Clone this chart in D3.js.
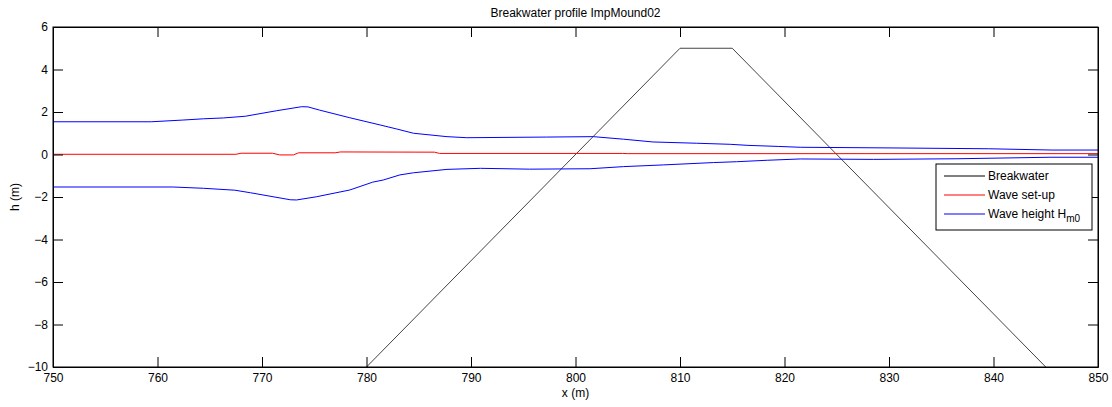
<!DOCTYPE html>
<html>
<head>
<meta charset="utf-8">
<script src="https://cdn.jsdelivr.net/npm/d3@7"></script>
<style>
  body { margin: 0; background: #fff; }
  svg text { font-family: "Liberation Sans", Arial, sans-serif; font-size: 12px; fill: #000; }
</style>
</head>
<body>
<svg id="chart" width="1112" height="407"></svg>
<script>
// breakwater cross-section (x, h)
const breakwater = [[780, -10], [810, 5], [815, 5], [845, -10]]

// wave set-up along the profile
const setup = [
  [750, 0.01], [767.5, 0.01], [768, 0.06], [771, 0.06], [771.7, -0.02], [773, -0.02],
  [773.5, 0.08], [777, 0.08], [777.5, 0.12], [786.5, 0.11], [787, 0.05], [804.5, 0.05],
  [805, 0.04], [850, 0.04]
]

// upper envelope (+Hm0/2) and lower envelope (-Hm0/2)
const hUpper = [
  [750, 1.54], [759.4, 1.54], [762.4, 1.62], [764.4, 1.68], [766.3, 1.72], [768.4, 1.80],
  [771.4, 2.06], [773.8, 2.25], [774.4, 2.24], [775.5, 2.09], [778.4, 1.73], [781.3, 1.39],
  [782.9, 1.2], [784.5, 1.0], [787.7, 0.84], [789.6, 0.79], [797.2, 0.82], [801.7, 0.84],
  [804.6, 0.72], [807.4, 0.59], [811.6, 0.53], [814.8, 0.48], [816.5, 0.43], [819.4, 0.38],
  [821.5, 0.34], [830, 0.31], [839.5, 0.27], [845.6, 0.21], [850, 0.21]
]
const hLower = [
  [750, -1.53], [761.5, -1.53], [764.4, -1.59], [767.4, -1.68], [768.9, -1.80],
  [772.7, -2.13], [773.3, -2.14], [775.2, -1.99], [778.4, -1.67], [780.6, -1.3],
  [781.6, -1.2], [783.2, -0.96], [784.5, -0.86], [787.7, -0.70], [790.9, -0.65],
  [795.6, -0.69], [801.4, -0.67], [804.6, -0.57], [808.4, -0.49], [813.2, -0.38],
  [815.4, -0.34], [818.4, -0.27], [821.5, -0.21], [828.5, -0.23], [836.5, -0.20],
  [845.4, -0.13], [850, -0.13]
]

const xTicks = [750, 760, 770, 780, 790, 800, 810, 820, 830, 840, 850]
const yTicks = [-10, -8, -6, -4, -2, 0, 2, 4, 6]

const legendItems = [
  { label: "Breakwater", color: "#000" },
  { label: "Wave set-up", color: "#ff0000" },
  { label: "Wave height H", sub: "m0", color: "#0000ff" }
]

const svg = d3.select("#chart")
const margin = { left: 53, top: 27, right: 14, bottom: 40 }
const width = 1112 - margin.left - margin.right
const height = 407 - margin.top - margin.bottom

const x = d3.scaleLinear().domain([750, 850]).range([0, width])
const y = d3.scaleLinear().domain([-10, 6]).range([height, 0])

const g = svg.append("g")
  .attr("transform", "translate(" + margin.left + "," + margin.top + ")")

const line = d3.line()
  .x(d => x(d[0]))
  .y(d => y(d[1]))

// clip so lines stay inside the box
g.append("clipPath").attr("id", "clip")
  .append("rect").attr("width", width).attr("height", height)

const plot = g.append("g").attr("clip-path", "url(#clip)")

plot.append("path").datum(breakwater)
  .attr("d", line).attr("fill", "none").attr("stroke", "#444").attr("stroke-width", 1)
plot.append("path").datum(setup)
  .attr("d", line).attr("fill", "none").attr("stroke", "#ff0000").attr("stroke-width", 1)
plot.append("path").datum(hUpper)
  .attr("d", line).attr("fill", "none").attr("stroke", "#0000ff").attr("stroke-width", 1)
plot.append("path").datum(hLower)
  .attr("d", line).attr("fill", "none").attr("stroke", "#0000ff").attr("stroke-width", 1)

// axes: MATLAB style, ticks pointing inward on all four sides
const tl = 10
g.append("g").attr("transform", "translate(0," + height + ")")
  .call(d3.axisBottom(x).tickValues(xTicks).tickSizeInner(-tl).tickSizeOuter(0).tickPadding(6))
g.append("g").attr("transform", "translate(0,0)")
  .call(d3.axisTop(x).tickValues(xTicks).tickSizeInner(-tl).tickSizeOuter(0).tickFormat(""))
g.append("g")
  .call(d3.axisLeft(y).tickValues(yTicks).tickSizeInner(-tl).tickSizeOuter(0).tickPadding(5))
g.append("g").attr("transform", "translate(" + width + ",0)")
  .call(d3.axisRight(y).tickValues(yTicks).tickSizeInner(-tl).tickSizeOuter(0).tickFormat(""))

g.selectAll(".domain").attr("stroke", "#000")
g.selectAll(".tick line").attr("stroke", "#000")
g.selectAll(".tick text").attr("fill", "#000").style("font-size", "12px")
  .style("font-family", "'Liberation Sans', Arial, sans-serif")

g.append("rect").attr("width", width).attr("height", height)
  .attr("fill", "none").attr("stroke", "#000").attr("stroke-width", 1)

// title and axis labels
svg.append("text").attr("x", margin.left + width / 2).attr("y", 17)
  .attr("text-anchor", "middle").text("Breakwater profile ImpMound02")
svg.append("text").attr("x", margin.left + width / 2).attr("y", 397)
  .attr("text-anchor", "middle").text("x (m)")
svg.append("text").attr("transform", "translate(19," + (margin.top + height / 2) + ") rotate(-90)")
  .attr("text-anchor", "middle").text("h (m)")

// legend
const lg = svg.append("g").attr("transform", "translate(936,164)")
lg.append("rect").attr("width", 156).attr("height", 66)
  .attr("fill", "#fff").attr("stroke", "#000").attr("stroke-width", 1)
const rows = lg.selectAll(".row").data(legendItems).join("g")
  .attr("transform", (d, i) => "translate(0," + (12 + i * 19) + ")")
rows.append("line").attr("x1", 8).attr("x2", 49)
  .attr("stroke", d => d.color).attr("stroke-width", 1)
const lt = rows.append("text").attr("x", 52).attr("y", 4)
lt.append("tspan").text(d => d.label)
lt.filter(d => d.sub).append("tspan").attr("dy", 4).style("font-size", "10px").text(d => d.sub)
</script>
</body>
</html>
